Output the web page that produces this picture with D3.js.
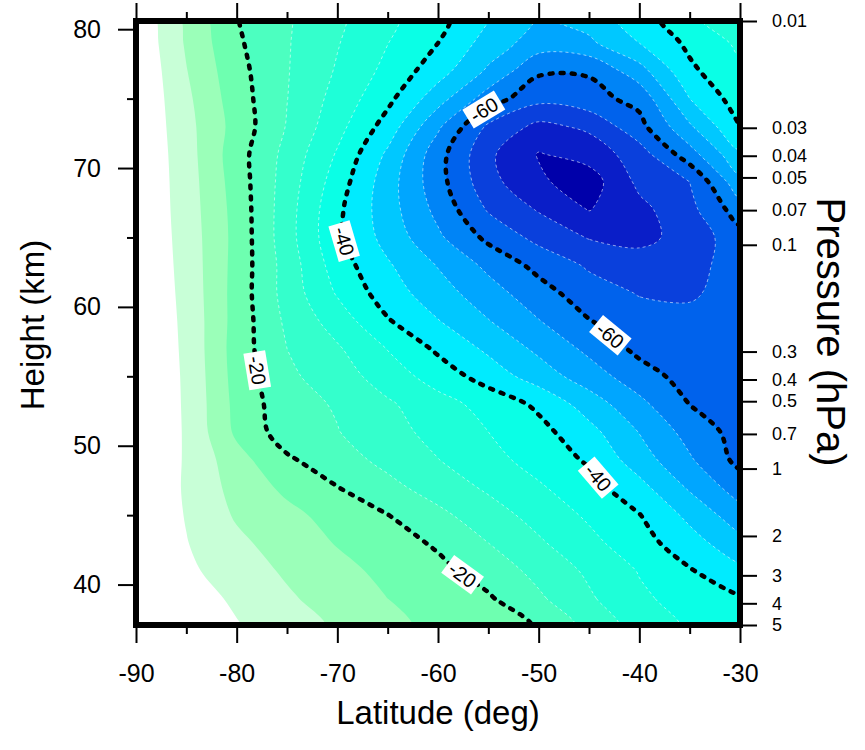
<!DOCTYPE html>
<html>
<head>
<meta charset="utf-8">
<script src="https://cdn.jsdelivr.net/npm/d3@7"></script>
<style>
  body { margin: 0; background: #fff; }
  text { font-family: Helvetica, Arial, "Liberation Sans", sans-serif; }
</style>
</head>
<body>
<svg width="865" height="750"></svg>
<script>
// grid axes (deg, km)
const lats = [-90, -85, -80, -75, -70, -65, -60, -55, -50, -45, -40, -35, -30];
const heights = [81, 79, 77, 75, 73, 71, 69, 67, 65, 63, 61, 59, 57, 55, 53, 51, 49, 47, 45, 43, 41, 39, 37];

// field values, one row per height (top to bottom), one column per latitude
const grid = [
  [-1, -11.5, -19.9, -24.5, -29.1, -33.8, -38.4, -44.3, -50.4, -47.5, -42.4, -35.8, -31],
  [-0.5, -10.6, -19.2, -24.6, -29.7, -34.9, -40, -47.1, -52.5, -51, -45, -38.9, -34],
  [0, -9.8, -18.3, -24.7, -30.5, -36.4, -42.8, -50.8, -59.2, -59.5, -52, -41, -36],
  [0, -8.9, -17.6, -24.9, -31.8, -38.7, -47.9, -57.5, -63.5, -61.7, -58.5, -45, -37.5],
  [0, -8.3, -16.9, -25.3, -33.3, -42.1, -54.1, -65.9, -71.3, -69, -61.6, -50.7, -40],
  [0, -7.8, -17.8, -26.6, -35.5, -45.9, -58.0, -69, -75.3, -73, -67.4, -57.1, -45.9],
  [0, -7.5, -17.3, -27.3, -37.4, -47.7, -58.1, -68.3, -74.2, -77.5, -68.8, -65, -51.5],
  [0, -7.3, -16.8, -27.8, -38.9, -47.8, -56.4, -65.5, -70.4, -75.2, -71.4, -66.5, -57.5],
  [0, -7.0, -16.6, -27.9, -39.1, -46.8, -54.1, -61.2, -66.5, -70.3, -71.5, -68, -62],
  [0, -6.7, -16.8, -27.1, -37.5, -44.4, -50.3, -56.2, -61.5, -65.7, -67.5, -66.5, -63],
  [0, -6.4, -17.0, -27.0, -35.5, -42.6, -47.8, -52.9, -58.0, -62.7, -65.3, -65.5, -63.5],
  [0, -6.1, -17.0, -26.0, -32.3, -39.6, -44.8, -49.8, -54.8, -59.8, -63, -64, -63],
  [0, -5.9, -17.3, -25.0, -29.4, -35.2, -40.9, -46.0, -51.1, -56.2, -61.3, -62.8, -62.5],
  [0, -5.7, -17.0, -24.0, -27.6, -32.4, -37.2, -42.2, -47.4, -52.6, -57.8, -62, -62.3],
  [0, -5.6, -16.5, -23.0, -25.5, -29.3, -33.1, -36.8, -41.0, -47.4, -53.7, -60.1, -62],
  [0, -5.5, -16.0, -22.5, -24.8, -28.2, -31.6, -35.0, -38.4, -43.4, -50.2, -56.9, -62],
  [0, -5.5, -13.1, -19.3, -22.9, -26.4, -29.9, -33.4, -36.9, -40.7, -47.6, -54.4, -61.5],
  [0, -5.6, -11.8, -16.1, -19.9, -23.6, -27.2, -30.8, -34.4, -38.1, -43.4, -50.7, -57.5],
  [0, -5.3, -10.6, -13.7, -16.8, -19.9, -23.8, -27.8, -31.8, -35.8, -39.8, -46.3, -52.9],
  [-1, -4.8, -8.9, -12.3, -15.3, -17.8, -20.7, -25.0, -29.3, -33.6, -38.0, -42.9, -48.4],
  [-1, -4.0, -7.5, -10.7, -13.6, -16.2, -18.7, -22.1, -26.5, -30.9, -35.3, -39.6, -43.9],
  [-1.5, -3.0, -5.7, -9.3, -12.2, -15.0, -17.2, -19.4, -24.2, -29.3, -34.1, -37, -39.5],
  [-2, -3.5, -4.7, -7.7, -10.7, -13.8, -16.2, -18.1, -20.3, -26.7, -32.2, -35.7, -37.3]
];

// fill levels and the colour of each band (lowest band first)
const levels = [-75, -70, -65, -60, -55, -50, -45, -40, -35, -30, -25, -20, -15, -10, -5];
const bandColors = ["#0000aa", "#0a1ec8", "#0a40dc", "#0062ec", "#0084f6", "#00a6ff", "#00c8ff",
  "#00ebff", "#0affe6", "#1effd8", "#34ffcc", "#4cffc0", "#6effb0", "#9bffb9", "#c8ffd7", "#ffffff"];

// labelled black contours and where their labels sit (lat, km)
const lineLevels = [-60, -40, -20];
const lineLabels = [
  {value: -60, lat: -55.3, z: 74.0},
  {value: -60, lat: -43.1, z: 57.7},
  {value: -40, lat: -69.6, z: 64.6},
  {value: -40, lat: -45.1, z: 47.0},
  {value: -20, lat: -78.1, z: 55.4},
  {value: -20, lat: -57.3, z: 41.0}
];

const latTicks = [-90, -80, -70, -60, -50, -40, -30];
const latMinor = [-85, -75, -65, -55, -45, -35];
const heightTicks = [40, 50, 60, 70, 80];
const heightMinor = [45, 55, 65, 75];
const pressureTicks = [0.01, 0.03, 0.04, 0.05, 0.07, 0.1, 0.3, 0.4, 0.5, 0.7, 1, 2, 3, 4, 5];

const svg = d3.select("svg");
const pLeft = 136, pRight = 740, pTop = 21, pBottom = 625;

// log-pressure height, 7 km scale height
const H = 7;
const zOf = p => H * Math.log(1000 / p);

const x = d3.scaleLinear().domain([-90, -30]).range([pLeft, pRight]);
const y = d3.scaleLinear().domain([zOf(5), zOf(0.01)]).range([pBottom, pTop]);
const yp = d3.scaleLog().domain([5, 0.01]).range([pBottom, pTop]);

// where d3.contours puts grid value 0 (pixel-centre offset)
const probe = d3.contours().size([2, 1]).thresholds([0.5])([0, 1])[0];
const off = d3.min(probe.coordinates[0][0], d => d[0]) - 0.5;

const dLat = lats[1] - lats[0], dZ = heights[1] - heights[0];
const gx = c => x(lats[0] + (c - off) * dLat);
const gy = c => y(heights[0] + (c - off) * dZ);

const contours = d3.contours()
    .size([lats.length, heights.length])
    .thresholds(levels)(grid.flat());

const smooth = d3.line().curve(d3.curveCatmullRomClosed.alpha(0.5));
const toPath = geom => geom.coordinates.map(poly =>
  poly.map(ring => smooth(ring.slice(0, -1).map(([a, b]) => [gx(a), gy(b)]))).join("")
).join("");

svg.append("defs").append("clipPath")
    .attr("id", "plot-clip")
  .append("rect")
    .attr("x", pLeft).attr("y", pTop)
    .attr("width", pRight - pLeft).attr("height", pBottom - pTop);

const plot = svg.append("g").attr("clip-path", "url(#plot-clip)");

// lowest band as background
plot.append("rect")
    .attr("x", pLeft).attr("y", pTop)
    .attr("width", pRight - pLeft).attr("height", pBottom - pTop)
    .attr("fill", bandColors[0]);

// filled bands
plot.append("g")
  .selectAll("path")
  .data(contours)
  .join("path")
    .attr("d", toPath)
    .attr("fill", (d, i) => bandColors[i + 1])
    .attr("fill-rule", "evenodd");

// thin dashed band edges
plot.append("g")
  .selectAll("path")
  .data(contours.filter(d => d.value <= -25 && !lineLevels.includes(d.value)))
  .join("path")
    .attr("d", toPath)
    .attr("fill", "none")
    .attr("stroke", "rgba(255,255,255,0.55)")
    .attr("stroke-width", 1)
    .attr("stroke-dasharray", "3,3");

// black dashed contours
const lineG = plot.append("g");
lineG.selectAll("path")
  .data(contours.filter(d => lineLevels.includes(d.value)))
  .join("path")
    .attr("data-level", d => d.value)
    .attr("d", toPath)
    .attr("fill", "none")
    .attr("stroke", "#000")
    .attr("stroke-width", 4.5)
    .attr("stroke-linecap", "round")
    .attr("stroke-dasharray", "3,8");

// labels along the lines
const labelG = svg.append("g");
lineLabels.forEach(lb => {
  const node = lineG.select(`path[data-level="${lb.value}"]`).node();
  const total = node.getTotalLength();
  const ax = x(lb.lat), ay = y(lb.z);
  let best = 0, bestD = Infinity;
  for (let s = 0; s <= total; s += 2) {
    const p = node.getPointAtLength(s);
    const d = (p.x - ax) ** 2 + (p.y - ay) ** 2;
    if (d < bestD) { bestD = d; best = s; }
  }
  const p = node.getPointAtLength(best);
  const p0 = node.getPointAtLength(Math.max(0, best - 10));
  const p1 = node.getPointAtLength(Math.min(total, best + 10));
  let ang = Math.atan2(p1.y - p0.y, p1.x - p0.x) * 180 / Math.PI;
  if (ang > 100) ang -= 180;
  if (ang <= -80) ang += 180;

  const g = labelG.append("g").attr("transform", `translate(${p.x},${p.y}) rotate(${ang})`);
  const rect = g.append("rect").attr("fill", "#fff");
  const t = g.append("text")
      .attr("text-anchor", "middle")
      .attr("dy", "0.36em")
      .attr("font-size", 20)
      .text(lb.value);
  const w = t.node().getComputedTextLength() + 8;
  rect.attr("x", -w / 2).attr("y", -11).attr("width", w).attr("height", 22);
});

// axes
const axes = svg.append("g");
const styleAxis = g => {
  g.select(".domain").remove();
  g.selectAll(".tick line").attr("stroke", "#000").attr("stroke-width", 2);
  g.selectAll(".tick text").attr("fill", "#000").style("font-family", "Helvetica, Arial, 'Liberation Sans', sans-serif");
};

axes.append("g")
    .attr("transform", `translate(0,${pBottom})`)
    .call(d3.axisBottom(x).tickValues(latTicks).tickSize(18).tickPadding(21).tickFormat(d => d))
    .call(styleAxis)
    .selectAll("text").attr("font-size", 25);
axes.append("g")
    .attr("transform", `translate(0,${pBottom})`)
    .call(d3.axisBottom(x).tickValues(latMinor).tickSize(9).tickFormat(""))
    .call(styleAxis);
axes.append("g")
    .attr("transform", `translate(0,${pTop})`)
    .call(d3.axisTop(x).tickValues(latTicks).tickSize(18).tickFormat(""))
    .call(styleAxis);
axes.append("g")
    .attr("transform", `translate(0,${pTop})`)
    .call(d3.axisTop(x).tickValues(latMinor).tickSize(9).tickFormat(""))
    .call(styleAxis);

axes.append("g")
    .attr("transform", `translate(${pLeft},0)`)
    .call(d3.axisLeft(y).tickValues(heightTicks).tickSize(18).tickPadding(17).tickFormat(d => d))
    .call(styleAxis)
    .selectAll("text").attr("font-size", 25);
axes.append("g")
    .attr("transform", `translate(${pLeft},0)`)
    .call(d3.axisLeft(y).tickValues(heightMinor).tickSize(9).tickFormat(""))
    .call(styleAxis);

axes.append("g")
    .attr("transform", `translate(${pRight},0)`)
    .call(d3.axisRight(yp).tickValues(pressureTicks).tickSize(17).tickPadding(15).tickFormat(d => String(d)))
    .call(styleAxis)
    .selectAll("text").attr("font-size", 18);

// frame
svg.append("rect")
    .attr("x", pLeft).attr("y", pTop)
    .attr("width", pRight - pLeft).attr("height", pBottom - pTop)
    .attr("fill", "none")
    .attr("stroke", "#000")
    .attr("stroke-width", 6);

// axis titles
svg.append("text")
    .attr("x", 438).attr("y", 724)
    .attr("text-anchor", "middle")
    .attr("font-size", 33)
    .text("Latitude (deg)");
svg.append("text")
    .attr("transform", "translate(44,325) rotate(-90)")
    .attr("text-anchor", "middle")
    .attr("font-size", 33)
    .text("Height (km)");
svg.append("text")
    .attr("transform", "translate(817,332) rotate(90)")
    .attr("text-anchor", "middle")
    .attr("font-size", 40)
    .text("Pressure (hPa)");
</script>
</body>
</html>
